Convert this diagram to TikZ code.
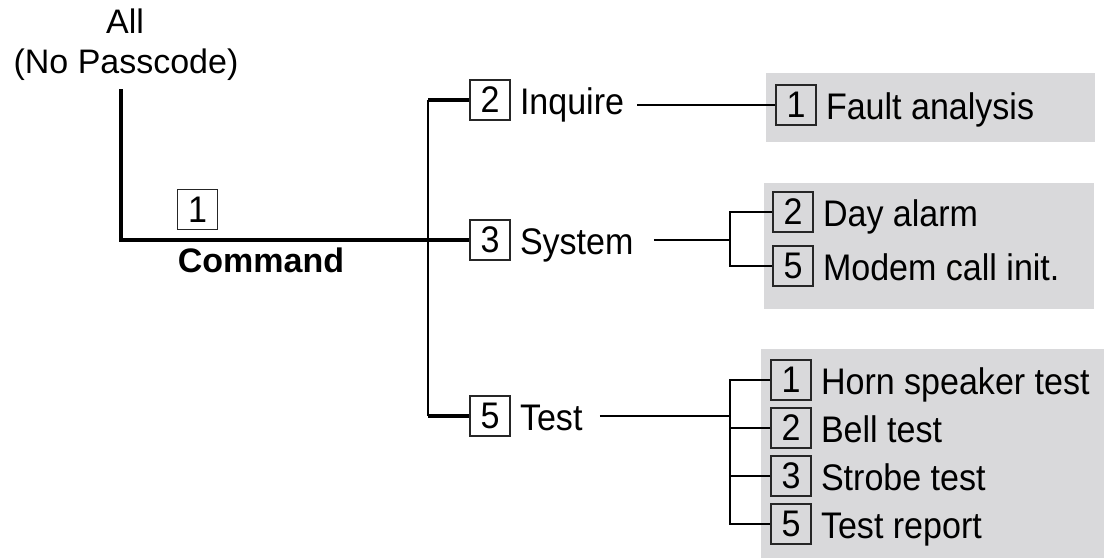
\documentclass[tikz,border=0pt]{standalone}
\usepackage{fontspec}
\setmainfont{Liberation Sans}
\newfontfamily\itemfont[FakeStretch=0.92]{Liberation Sans}
\usetikzlibrary{positioning}
\definecolor{panelgray}{RGB}{217,217,219}

\begin{document}
\begin{tikzpicture}[
        x=0.5pt, y=-0.5pt,
        every node/.style={font=\fontsize{17}{20}\selectfont},
        numbox/.style={rectangle, draw=black!85, line width=0.6pt, minimum width=20pt, minimum height=20pt, inner sep=0pt, font=\itemfont\fontsize{18.5}{22}\selectfont},
        itemtext/.style={anchor=base west, inner sep=0pt, font=\itemfont\fontsize{18.5}{22}\selectfont},
        toptext/.style={anchor=base, inner sep=0pt},
        mainline/.style={line width=1.6pt},
        trunkline/.style={line width=1.35pt},
        linkline/.style={line width=1pt},
        ]
        \useasboundingbox (0,0) rectangle (1116,558);
        %Panels
        \fill[panelgray] (766,73) rectangle (1095,142);
        \fill[panelgray] (764,183) rectangle (1094,309);
        \fill[panelgray] (761,349) rectangle (1104,558);

        %Nodes
        \node[toptext] (all) at (125,33) {All};
        \node[toptext] (nopass) at (126,73) {(No Passcode)};
        \coordinate (root) at (121,89);
        \node[numbox] (cmdnum) at (197.5,209.5) {1};
        \node[toptext, font=\fontsize{17}{20}\selectfont\bfseries] (cmd) at (261,272) {Command};

        \node[numbox] (inqnum) at (490,100) {2};
        \node[numbox] (sysnum) at (490,240) {3};
        \node[numbox] (tstnum) at (490,416) {5};
        \node[itemtext] (inq) at ([xshift=4.5pt,yshift=-7.3pt]inqnum.east) {Inquire};
        \node[itemtext] (sys) at ([xshift=4.5pt,yshift=-7.3pt]sysnum.east) {System};
        \node[itemtext] (tst) at ([xshift=4.5pt,yshift=-7.3pt]tstnum.east) {Test};

        \node[numbox] (fltnum) at (796,105) {1};
        \node[itemtext] (flt) at ([xshift=4.5pt,yshift=-7.3pt]fltnum.east) {Fault analysis};

        \node[numbox] (daynum) at (793,212) {2};
        \node[numbox] [below=6.4pt of daynum] (modnum) {5};
        \node[itemtext] (day) at ([xshift=4.5pt,yshift=-7.3pt]daynum.east) {Day alarm};
        \node[itemtext] (mod) at ([xshift=4.5pt,yshift=-7.3pt]modnum.east) {Modem call init.};

        \node[numbox] (hornnum) at (791,380) {1};
        \node[numbox] [below=3.4pt of hornnum] (bellnum) {2};
        \node[numbox] [below=3.4pt of bellnum] (strnum) {3};
        \node[numbox] [below=3.4pt of strnum] (repnum) {5};
        \node[itemtext] (horn) at ([xshift=4.5pt,yshift=-7.3pt]hornnum.east) {Horn speaker test};
        \node[itemtext] (bell) at ([xshift=4.5pt,yshift=-7.3pt]bellnum.east) {Bell test};
        \node[itemtext] (str) at ([xshift=4.5pt,yshift=-7.3pt]strnum.east) {Strobe test};
        \node[itemtext] (rep) at ([xshift=4.5pt,yshift=-7.3pt]repnum.east) {Test report};

        \coordinate (trunk) at (428,240);
        \coordinate (sysfork) at (730,240);
        \coordinate (tstfork) at (730,416);

        %Lines
        \draw[mainline] (root) |- (sysnum.west);
        \draw[trunkline] (inqnum.west -| trunk) -- (tstnum.west -| trunk);
        \draw[mainline] (inqnum.west -| trunk) -- (inqnum.west);
        \draw[mainline] (tstnum.west -| trunk) -- (tstnum.west);

        \draw[linkline] ([xshift=6.5pt]inq.east |- fltnum.west) -- (fltnum.west);

        \draw[linkline] ([xshift=10pt]sys.east |- sysfork) -- (sysfork);
        \draw[linkline] (daynum.west) -| (sysfork) |- (modnum.west);

        \draw[linkline] ([xshift=8.5pt]tst.east |- tstfork) -- (tstfork);
        \draw[linkline] (hornnum.west) -| (tstfork) |- (repnum.west);
        \draw[linkline] (bellnum.west) -- (bellnum.west -| tstfork);
        \draw[linkline] (strnum.west) -- (strnum.west -| tstfork);
    \end{tikzpicture}
\end{document}
